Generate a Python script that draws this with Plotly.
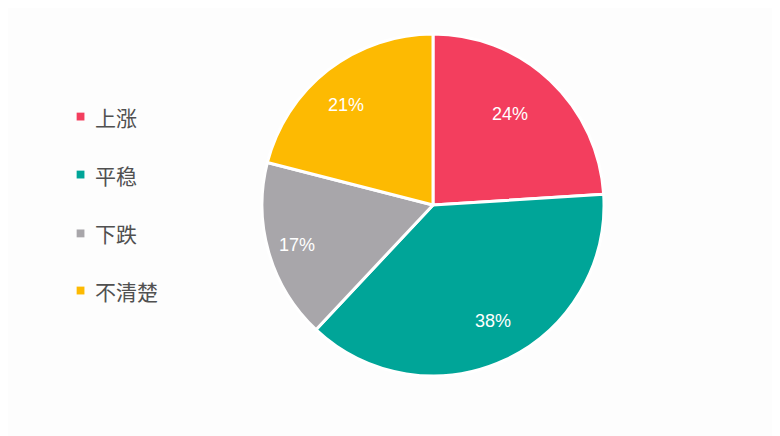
import math
import plotly.graph_objects as go

labels = ['上涨', '平稳', '下跌', '不清楚']
values = [24, 38, 17, 21]
colors = ['#F33E5E', '#00A598', '#A8A6AA', '#FDBA02']

W, H = 780, 436
cx_px, cy_px, r_px = 425, 197, 171   # pie centre / radius in figure pixels

fig = go.Figure()
fig.add_trace(go.Pie(
    labels=labels,
    values=values,
    sort=False,
    direction='clockwise',
    rotation=0,
    marker=dict(colors=colors, line=dict(color='white', width=3)),
    textinfo='none',
    domain=dict(x=[(cx_px - r_px) / W, (cx_px + r_px) / W],
                y=[1 - (cy_px + r_px) / H, 1 - (cy_px - r_px) / H]),
    showlegend=False,
    hoverinfo='label+percent',
))

# percentage labels sit further out than plotly's default placement
total = sum(values)
start = 0.0
for v in values:
    mid = (start + v / 2) / total * 2 * math.pi
    start += v
    px = cx_px + 0.83 * r_px * math.sin(mid)
    py = cy_px - 0.83 * r_px * math.cos(mid)
    fig.add_annotation(x=px / W, y=1 - py / H, xref='paper', yref='paper',
                       text='%d%%' % round(v / total * 100), showarrow=False,
                       font=dict(size=18, color='white', family='Liberation Sans, Arial'))

# hand-drawn legend on the left
row_y = [0.751, 0.618, 0.483, 0.352]
for lab, col, yy in zip(labels, colors, row_y):
    fig.add_shape(type='rect', xref='paper', yref='paper',
                  x0=0.088, x1=0.098, y0=yy - 0.009, y1=yy + 0.009,
                  fillcolor=col, line=dict(width=0))
    fig.add_annotation(x=0.109, y=yy, xref='paper', yref='paper',
                       text=lab, showarrow=False, xanchor='left', yanchor='middle',
                       font=dict(size=21, color='#505050', family='Noto Sans CJK SC'))

fig.update_layout(
    width=W, height=H,
    margin=dict(l=0, r=0, t=0, b=0),
    paper_bgcolor='#FDFDFD',
    plot_bgcolor='#FDFDFD',
)

fig.write_html('out.html')
